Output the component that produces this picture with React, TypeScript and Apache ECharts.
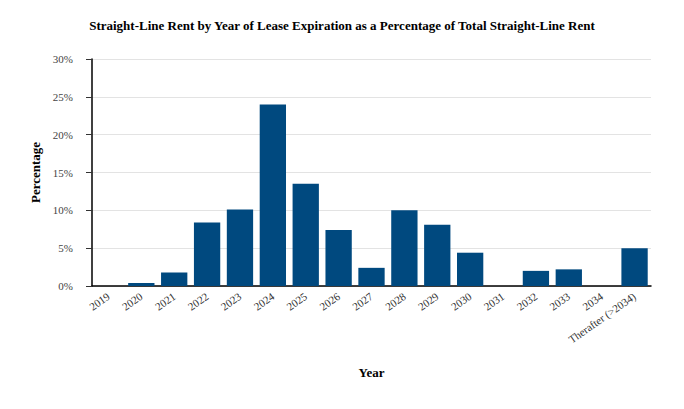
import React, { useEffect, useRef } from "react";
import * as echarts from "echarts";

const categories = ["2019", "2020", "2021", "2022", "2023", "2024", "2025", "2026", "2027", "2028", "2029", "2030", "2031", "2032", "2033", "2034", "Therafter (>2034)"];
const values = [0, 0.4, 1.8, 8.4, 10.1, 24.0, 13.5, 7.4, 2.4, 10.0, 8.1, 4.4, 0, 2.0, 2.2, 0, 5.0];
const yTicks = [0, 5, 10, 15, 20, 25, 30];

const FONT = "Liberation Serif";

export default function App() {
  const ref = useRef<HTMLDivElement>(null);
  useEffect(() => {
    if (!ref.current) return;
    const chart = echarts.init(ref.current, undefined, { renderer: "svg" });
    chart.setOption({
      animation: false,
      textStyle: { fontFamily: FONT },
      title: {
        text: "Straight-Line Rent by Year of Lease Expiration as a Percentage of Total Straight-Line Rent",
        left: "center",
        top: 14,
        textStyle: { fontFamily: FONT, fontSize: 13, fontWeight: "bold", color: "#000" },
      },
      grid: { left: 92, right: 33, top: 59, bottom: 123, containLabel: false },
      xAxis: {
        type: "category",
        data: categories,
        name: "Year",
        nameLocation: "middle",
        nameGap: 80,
        nameTextStyle: { fontFamily: FONT, fontSize: 13, fontWeight: "bold", color: "#000" },
        axisLine: { lineStyle: { color: "#000", width: 1.5 } },
        axisTick: { alignWithLabel: true, length: 6, lineStyle: { color: "#333" } },
        axisLabel: { rotate: 35, interval: 0, fontSize: 11, color: "#333", margin: 9, fontFamily: FONT },
      },
      yAxis: {
        type: "value",
        min: yTicks[0],
        max: yTicks[yTicks.length - 1],
        interval: 5,
        name: "Percentage",
        nameLocation: "middle",
        nameGap: 49,
        nameTextStyle: { fontFamily: FONT, fontSize: 13, fontWeight: "bold", color: "#000" },
        axisLine: { show: true, lineStyle: { color: "#000", width: 1.5 } },
        axisTick: { show: true, length: 6, lineStyle: { color: "#333" } },
        axisLabel: { formatter: "{value}%", fontSize: 11, color: "#444", margin: 19, fontFamily: FONT },
        splitLine: { lineStyle: { color: "#e3e3e3" } },
      },
      series: [
        {
          type: "bar",
          data: values,
          barCategoryGap: "20%",
          itemStyle: { color: "#00497f" },
        },
      ],
    });
    return () => chart.dispose();
  }, []);
  return <div ref={ref} style={{ width: 684, height: 409, position: "absolute", left: 0, top: 0 }} />;
}
